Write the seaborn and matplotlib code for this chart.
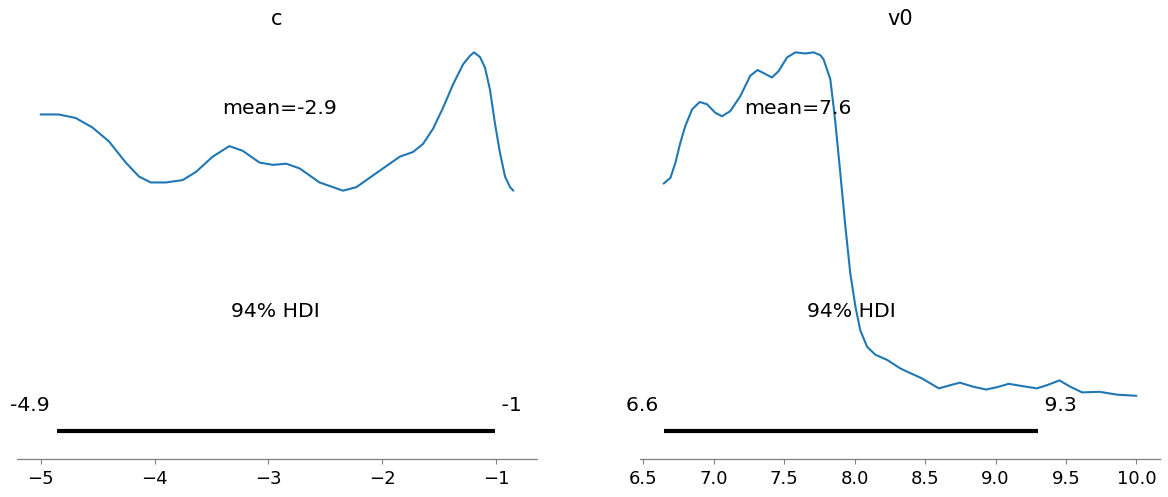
import numpy as np
import pandas as pd
import matplotlib
matplotlib.use("Agg")
import matplotlib.pyplot as plt
import seaborn as sns

# ---- data ----
titles = ["c", "v0"]

c_x = [-5.000, -4.840, -4.693, -4.547, -4.400, -4.253, -4.136, -4.033, -3.900,
       -3.754, -3.636, -3.490, -3.343, -3.226, -3.079, -2.962, -2.844, -2.727,
       -2.551, -2.346, -2.228, -2.082, -1.935, -1.847, -1.730, -1.642, -1.554,
       -1.466, -1.378, -1.290, -1.231, -1.196, -1.143, -1.099, -1.055, -1.011,
       -0.967, -0.923, -0.879, -0.850]
c_density = [0.277, 0.277, 0.274, 0.266, 0.254, 0.236, 0.224, 0.219, 0.219,
             0.221, 0.228, 0.241, 0.250, 0.246, 0.236, 0.234, 0.235, 0.231,
             0.219, 0.212, 0.215, 0.225, 0.235, 0.241, 0.245, 0.252, 0.265,
             0.283, 0.303, 0.320, 0.327, 0.330, 0.326, 0.317, 0.298, 0.269,
             0.244, 0.224, 0.215, 0.212]

v0_x = [6.644, 6.692, 6.727, 6.763, 6.798, 6.846, 6.900, 6.952, 7.011, 7.059,
        7.117, 7.188, 7.259, 7.311, 7.366, 7.413, 7.460, 7.520, 7.579, 7.650,
        7.709, 7.756, 7.779, 7.827, 7.850, 7.863, 7.898, 7.934, 7.969, 8.005,
        8.040, 8.088, 8.147, 8.230, 8.324, 8.375, 8.474, 8.598, 8.670, 8.747,
        8.840, 8.933, 9.010, 9.094, 9.190, 9.293, 9.370, 9.454, 9.530, 9.615,
        9.739, 9.863, 10.000]
v0_density = [0.448, 0.458, 0.484, 0.520, 0.549, 0.578, 0.591, 0.587, 0.572,
              0.566, 0.575, 0.601, 0.637, 0.647, 0.640, 0.634, 0.645, 0.669,
              0.678, 0.676, 0.678, 0.673, 0.666, 0.631, 0.584, 0.555, 0.467,
              0.373, 0.291, 0.233, 0.191, 0.162, 0.148, 0.139, 0.124, 0.118,
              0.107, 0.089, 0.094, 0.099, 0.092, 0.087, 0.091, 0.097, 0.093,
              0.089, 0.095, 0.103, 0.092, 0.082, 0.083, 0.078, 0.076]

means = [-2.9, 7.6]
mean_labels = ["mean=-2.9", "mean=7.6"]
hdi_low = [-4.86, 6.65]
hdi_high = [-1.01, 9.30]
hdi_low_labels = ["-4.9", "6.6"]
hdi_high_labels = ["-1", "9.3"]
hdi_label = "94% HDI"
c_ticks = [-5, -4, -3, -2, -1]
v0_ticks = [6.5, 7.0, 7.5, 8.0, 8.5, 9.0, 9.5, 10.0]

sns.set_style("white")
plt.rcParams["font.family"] = ["DejaVu Sans"]
plt.rcParams["text.color"] = "black"
plt.rcParams["xtick.color"] = "black"
plt.rcParams["axes.titlecolor"] = "black"

fig = plt.figure(figsize=(11.68, 4.97), dpi=100)
ax1 = fig.add_axes([17 / 1168, 1 - 458.5 / 497, 520 / 1168, 425.5 / 497])
ax2 = fig.add_axes([640 / 1168, 1 - 458.5 / 497, 520 / 1168, 425.5 / 497])

curves = [(c_x, c_density, c_ticks), (v0_x, v0_density, v0_ticks)]
text_size = 14.7

for i, (ax, (xs, ds, ticks)) in enumerate(zip([ax1, ax2], curves)):
    df = pd.DataFrame({"x": xs, "density": ds})
    sns.lineplot(data=df, x="x", y="density", ax=ax, color="#1f77b4",
                 linewidth=1.5, sort=False)
    peak = max(ds)
    ax.set_ylim(-0.05 * peak, 1.05 * peak)
    ax.margins(x=0.05)
    max_data = ax.get_ylim()[1]

    ax.plot([hdi_low[i], hdi_high[i]], [max_data * 0.02, max_data * 0.02],
            lw=3, color="k", solid_capstyle="butt")
    ax.text(hdi_low[i], max_data * 0.07, hdi_low_labels[i] + " ",
            size=text_size, ha="right", color="black")
    ax.text(hdi_high[i], max_data * 0.07, " " + hdi_high_labels[i],
            size=text_size, ha="left", color="black")
    ax.text((hdi_low[i] + hdi_high[i]) / 2, max_data * 0.3, hdi_label,
            size=text_size, ha="center", color="black")
    ax.text(means[i], max_data * 0.8, mean_labels[i], size=text_size,
            ha="center", color="black")

    ax.set_title(titles[i], fontsize=15, color="black")
    ax.set_xlabel("")
    ax.set_ylabel("")
    ax.set_yticks([])
    ax.set_xticks(ticks)
    if i == 1:
        ax.set_xticklabels([f"{t:.1f}" for t in ticks])
    for s in ["left", "right", "top"]:
        ax.spines[s].set_visible(False)
    ax.spines["bottom"].set_color("#808080")
    ax.spines["bottom"].set_linewidth(0.9)
    ax.tick_params(axis="x", bottom=True, direction="out", length=3.5,
                   width=0.8, color="#808080", labelcolor="black",
                   labelsize=13, pad=5)

fig.savefig("out.png", dpi=100)
